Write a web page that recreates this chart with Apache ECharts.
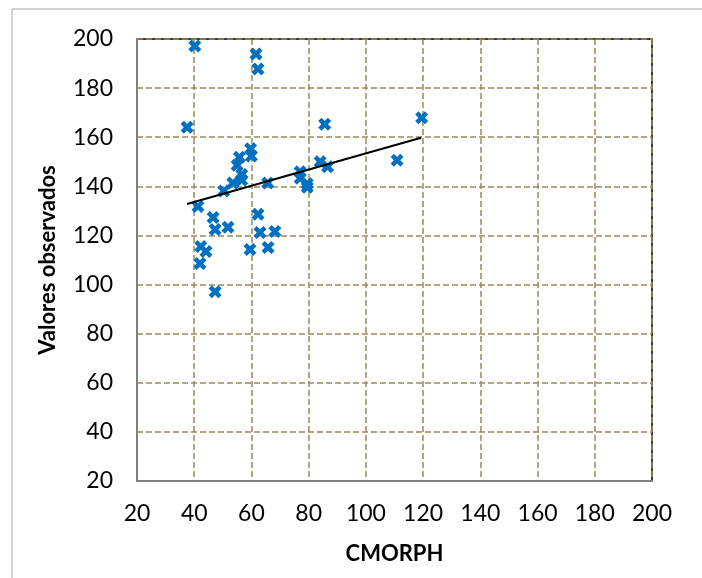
<!DOCTYPE html>
<html>
<head>
<meta charset="utf-8">
<script src="https://cdn.jsdelivr.net/npm/echarts@6/dist/echarts.min.js"></script>
<style>
  html, body { margin: 0; padding: 0; background: #fff; }
  #chart { width: 702px; height: 578px; }
</style>
</head>
<body>
<div id="chart"></div>
<script>
// CMORPH estimates vs observed values
const cmorph = [40.2, 61.6, 62.3, 37.5, 119.5, 85.6, 110.9,
  59.7, 60.0, 55.8, 55.0, 56.6, 56.6, 53.5, 50.3, 65.7,
  77.0, 77.0, 79.5, 79.5, 84.0, 86.6,
  41.3, 46.6, 47.3, 51.8, 42.3, 44.1, 42.0, 47.3,
  62.3, 63.0, 68.2, 59.5, 65.8];
const observados = [197.1, 193.9, 187.8, 164.1, 167.9, 165.3, 150.6,
  155.3, 152.4, 151.8, 148.6, 144.8, 142.6, 141.4, 138.1, 141.4,
  145.9, 143.3, 141.1, 139.6, 150.0, 148.0,
  131.8, 127.3, 122.4, 123.3, 115.5, 113.5, 108.6, 97.1,
  128.6, 121.2, 121.6, 114.3, 115.1];
// linear trend line end points
const trendX = [37.5, 119.3];
const trendY = [132.8, 159.8];

const crossPath = 'path://M0,2.5 L2.5,0 L5,2.5 L7.5,0 L10,2.5 L7.5,5 L10,7.5 L7.5,10 L5,7.5 L2.5,10 L0,7.5 L2.5,5 Z';
const font = 'Lato, "Open Sans", sans-serif';

const chart = echarts.init(document.getElementById('chart'));
const option = {
  animation: false,
  backgroundColor: '#fff',
  graphic: [{
    type: 'rect',
    shape: { x: 12, y: 9, width: 700, height: 580 },
    style: { fill: 'none', stroke: '#a6a6a6', lineWidth: 1 },
    silent: true
  }],
  grid: {
    left: 137, top: 39, right: 50, bottom: 97,
    show: true, borderColor: '#000', borderWidth: 1.5
  },
  xAxis: {
    type: 'value',
    min: 20, max: 200, interval: 20,
    name: 'CMORPH',
    nameLocation: 'middle',
    nameGap: 62,
    nameTextStyle: { fontFamily: font, fontSize: 22, fontWeight: 'bold', color: '#000' },
    axisLine: { show: true, lineStyle: { color: '#808080', width: 2 } },
    axisTick: { show: false },
    axisLabel: { fontFamily: font, fontSize: 23, color: '#000', margin: 21 },
    splitLine: { lineStyle: { color: '#958c5a', type: [6, 3], width: 1.5 } }
  },
  yAxis: {
    type: 'value',
    min: 20, max: 200, interval: 20,
    name: 'Valores observados',
    nameLocation: 'middle',
    nameGap: 78,
    nameTextStyle: { fontFamily: font, fontSize: 22, fontWeight: 'bold', color: '#000' },
    axisLine: { show: true, lineStyle: { color: '#808080', width: 2 } },
    axisTick: { show: false },
    axisLabel: { fontFamily: font, fontSize: 23, color: '#000', margin: 24 },
    splitLine: { lineStyle: { color: '#958c5a', type: [6, 3], width: 1.5 } }
  },
  series: [
    {
      type: 'scatter',
      data: cmorph.map((x, i) => [x, observados[i]]),
      symbol: crossPath,
      symbolSize: 13,
      itemStyle: { color: '#0070c0', opacity: 1 },
      z: 3
    },
    {
      type: 'line',
      data: trendX.map((x, i) => [x, trendY[i]]),
      showSymbol: false,
      lineStyle: { color: '#000', width: 2 },
      z: 4
    }
  ]
};
chart.setOption(option);
</script>
</body>
</html>
